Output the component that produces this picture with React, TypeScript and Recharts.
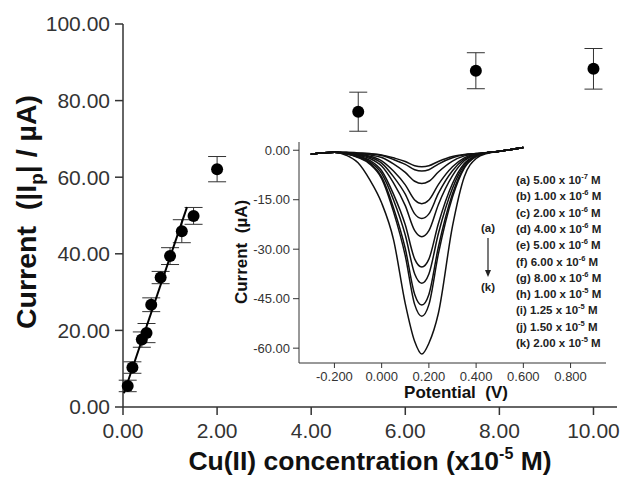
import { ComposedChart, LineChart, Line, Scatter, ErrorBar, XAxis, YAxis } from 'recharts';

// main plot: peak current vs Cu(II) concentration (x10^-5 M)
const concentrations = [0.1, 0.2, 0.4, 0.5, 0.6, 0.8, 1.0, 1.25, 1.5, 2.0, 5.0, 7.5, 10.0];
const currents = [5.5, 10.3, 17.6, 19.3, 26.7, 33.8, 39.4, 45.9, 49.9, 62.1, 77.1, 87.8, 88.3];
const currentErrors = [1.5, 1.5, 2.0, 2.5, 1.8, 1.6, 2.2, 3.0, 2.2, 3.3, 5.1, 4.7, 5.3];
const fitX = [0.02, 1.36];
const fitY = [3.6, 52.2];
const mainXTicks = [0, 2, 4, 6, 8, 10];
const mainYTicks = [0, 20, 40, 60, 80, 100];

// inset: voltammograms (a)..(k)
const potentials = [-0.3, -0.2, -0.15, -0.1, -0.05, 0.0, 0.05, 0.1, 0.14, 0.17, 0.2, 0.24, 0.3, 0.35, 0.4, 0.45, 0.5, 0.6];
const curveA = [-1.2, -0.6, -0.6, -0.8, -1.0, -1.4, -2.3, -3.4, -4.7, -5.0, -4.7, -3.4, -1.9, -1.3, -1.0, -0.7, -0.3, 0.8];
const curveB = [-1.2, -0.6, -0.7, -0.9, -1.1, -1.6, -2.8, -4.3, -5.9, -6.3, -5.9, -4.2, -2.3, -1.4, -1.0, -0.7, -0.3, 0.8];
const curveC = [-1.2, -0.6, -0.7, -1.0, -1.4, -2.2, -4.1, -6.7, -9.4, -10.1, -9.4, -6.6, -3.3, -1.7, -1.1, -0.7, -0.3, 0.8];
const curveD = [-1.2, -0.6, -0.8, -1.2, -1.8, -3.2, -6.3, -10.5, -15.1, -16.2, -15.1, -10.4, -5.0, -2.3, -1.2, -0.7, -0.3, 0.8];
const curveE = [-1.2, -0.6, -0.8, -1.3, -2.1, -3.9, -8.0, -13.3, -19.3, -20.7, -19.3, -13.1, -6.2, -2.7, -1.3, -0.7, -0.3, 0.8];
const curveF = [-1.2, -0.6, -0.9, -1.5, -2.5, -4.8, -9.9, -16.8, -24.4, -26.2, -24.4, -16.5, -7.7, -3.2, -1.4, -0.7, -0.3, 0.8];
const curveG = [-1.2, -0.6, -1.0, -1.7, -3.1, -6.2, -13.3, -22.6, -33.0, -35.4, -33.0, -22.3, -10.1, -4.0, -1.6, -0.7, -0.3, 0.8];
const curveH = [-1.2, -0.6, -1.0, -1.9, -3.5, -7.0, -15.0, -25.7, -37.5, -40.3, -37.5, -25.3, -11.5, -4.5, -1.7, -0.7, -0.3, 0.8];
const curveI = [-1.2, -0.6, -1.1, -2.1, -3.9, -8.1, -17.4, -29.8, -43.7, -46.9, -43.7, -29.4, -13.2, -5.1, -1.8, -0.7, -0.3, 0.8];
const curveJ = [-1.2, -0.6, -1.1, -2.2, -4.2, -8.6, -18.6, -32.0, -46.8, -50.3, -46.8, -31.5, -14.2, -5.4, -1.9, -0.7, -0.3, 0.8];
const curveK = [-1.2, -0.6, -1.5, -3.8, -9.0, -16.0, -27.0, -46.5, -58.0, -61.8, -58.5, -49.5, -23.0, -8.0, -2.5, -0.9, -0.3, 0.8];
const insetXTicks = [-0.2, 0, 0.2, 0.4, 0.6, 0.8];
const insetYTicks = [0, -15, -30, -45, -60];

const curveLetters = ['a', 'b', 'c', 'd', 'e', 'f', 'g', 'h', 'i', 'j', 'k'];
const curveMantissas = ['5.00', '1.00', '2.00', '4.00', '5.00', '6.00', '8.00', '1.00', '1.25', '1.50', '2.00'];
const curveExponents = ['-7', '-6', '-6', '-6', '-6', '-6', '-6', '-5', '-5', '-5', '-5'];

const curves = [curveA, curveB, curveC, curveD, curveE, curveF, curveG, curveH, curveI, curveJ, curveK];

const points = concentrations.map((x, i) => ({ x, y: currents[i], err: currentErrors[i] }));
const fitLine = fitX.map((x, i) => ({ x, y: fitY[i] }));
const insetRows = potentials.map((p, i) => {
  const row: Record<string, number> = { p };
  curveLetters.forEach((l, c) => { row[l] = curves[c][i]; });
  return row;
});

const FONT = '"Liberation Sans", Arial, Helvetica, sans-serif';
const AXIS = '#333';

export default function App() {
  return (
    <div style={{ position: 'relative', width: 623, height: 477, background: '#fff', fontFamily: FONT }}>
      <style>{'body{margin:0}'}</style>
      <ComposedChart width={623} height={477} margin={{ top: 24, right: 6, bottom: 0, left: 0 }}>
        <XAxis
          type="number"
          dataKey="x"
          domain={[0, 10.5]}
          ticks={mainXTicks}
          tickFormatter={(v: number) => v.toFixed(2)}
          height={70}
          tickSize={8}
          tickMargin={8}
          stroke={AXIS}
          strokeWidth={1.5}
          tick={{ fill: '#333', fontSize: 21, fontFamily: FONT }}
        />
        <XAxis xAxisId="top" orientation="top" type="number" domain={[0, 10.5]} tick={false} tickLine={false} height={0} stroke={AXIS} strokeWidth={1.5} />
        <YAxis
          type="number"
          dataKey="y"
          domain={[0, 100]}
          ticks={mainYTicks}
          tickFormatter={(v: number) => v.toFixed(2)}
          width={123}
          tickSize={8}
          tickMargin={5}
          stroke={AXIS}
          strokeWidth={1.5}
          tick={{ fill: '#333', fontSize: 21, fontFamily: FONT }}
        />
        <YAxis yAxisId="right" orientation="right" type="number" domain={[0, 100]} tick={false} tickLine={false} width={0} stroke={AXIS} strokeWidth={1.5} />
        <Scatter
          data={fitLine}
          line={{ stroke: '#000', strokeWidth: 2 }}
          shape={() => <g />}
          isAnimationActive={false}
        />
        <Scatter
          data={points}
          shape={(p: any) => <circle cx={p.cx} cy={p.cy} r={6} fill="#000" />}
          isAnimationActive={false}
        >
          <ErrorBar dataKey="err" direction="y" width={9} stroke="#333" strokeWidth={1} />
        </Scatter>
      </ComposedChart>

      <div style={{ position: 'absolute', left: 230, top: 137, width: 380, height: 265, background: '#fff' }}>
        <LineChart width={380} height={265} data={insetRows} margin={{ top: 5, right: 4, bottom: 0, left: 0 }}>
          <XAxis
            type="number"
            dataKey="p"
            domain={[-0.35, 0.95]}
            ticks={insetXTicks}
            tickFormatter={(v: number) => v.toFixed(3)}
            height={39}
            tickSize={5}
            tickMargin={4}
            stroke={AXIS}
            tick={{ fill: '#333', fontSize: 13, fontFamily: FONT }}
          />
          <XAxis xAxisId="top" orientation="top" type="number" domain={[-0.35, 0.95]} tick={false} tickLine={false} height={0} stroke={AXIS} />
          <YAxis
            type="number"
            domain={[-64.5, 2.5]}
            ticks={insetYTicks}
            tickFormatter={(v: number) => v.toFixed(2)}
            width={69}
            tickSize={6}
            tickMargin={3}
            stroke={AXIS}
            tick={{ fill: '#333', fontSize: 13, fontFamily: FONT }}
          />
          <YAxis yAxisId="right" orientation="right" type="number" domain={[-64.5, 2.5]} tick={false} tickLine={false} width={0} stroke={AXIS} />
          {curveLetters.map((l) => (
            <Line key={l} type="monotone" dataKey={l} stroke="#111" strokeWidth={1.5} dot={false} isAnimationActive={false} />
          ))}
        </LineChart>
      </div>

      <svg width={623} height={477} style={{ position: 'absolute', left: 0, top: 0, pointerEvents: 'none' }}>
        <text
          transform="translate(36,212) rotate(-90)"
          textAnchor="middle"
          fontSize={28.5}
          fontWeight="bold"
          fill="#111"
          style={{ whiteSpace: 'pre' }}
        >
          Current  (|I<tspan dy={7} fontSize={19}>p</tspan><tspan dy={-7}>| / µA)</tspan>
        </text>
        <text x={370} y={470} textAnchor="middle" fontSize={26.5} fontWeight="bold" fill="#111">
          Cu(II) concentration (x10<tspan dy={-11} fontSize={16}>-5</tspan><tspan dy={11}> M)</tspan>
        </text>

        <text transform="translate(247,252) rotate(-90)" textAnchor="middle" fontSize={17} fontWeight="bold" fill="#111" style={{ whiteSpace: 'pre' }}>
          Current  (µA)
        </text>
        <text x={456} y={398} textAnchor="middle" fontSize={17} fontWeight="bold" fill="#111" style={{ whiteSpace: 'pre' }}>
          Potential  (V)
        </text>

        {curveLetters.map((l, i) => (
          <text key={l} x={516} y={184 + i * 16.3} fontSize={11.5} fontWeight="bold" fill="#222">
            ({l}) {curveMantissas[i]} x 10<tspan dy={-5} fontSize={7.5}>{curveExponents[i]}</tspan><tspan dy={5}> M</tspan>
          </text>
        ))}
        <text x={488} y={232} textAnchor="middle" fontSize={11.5} fontWeight="bold" fill="#222">(a)</text>
        <line x1={488} y1={238} x2={488} y2={272} stroke="#222" strokeWidth={1.2} />
        <polygon points="485,270 491,270 488,277" fill="#222" />
        <text x={488} y={291} textAnchor="middle" fontSize={11.5} fontWeight="bold" fill="#222">(k)</text>
      </svg>
    </div>
  );
}
